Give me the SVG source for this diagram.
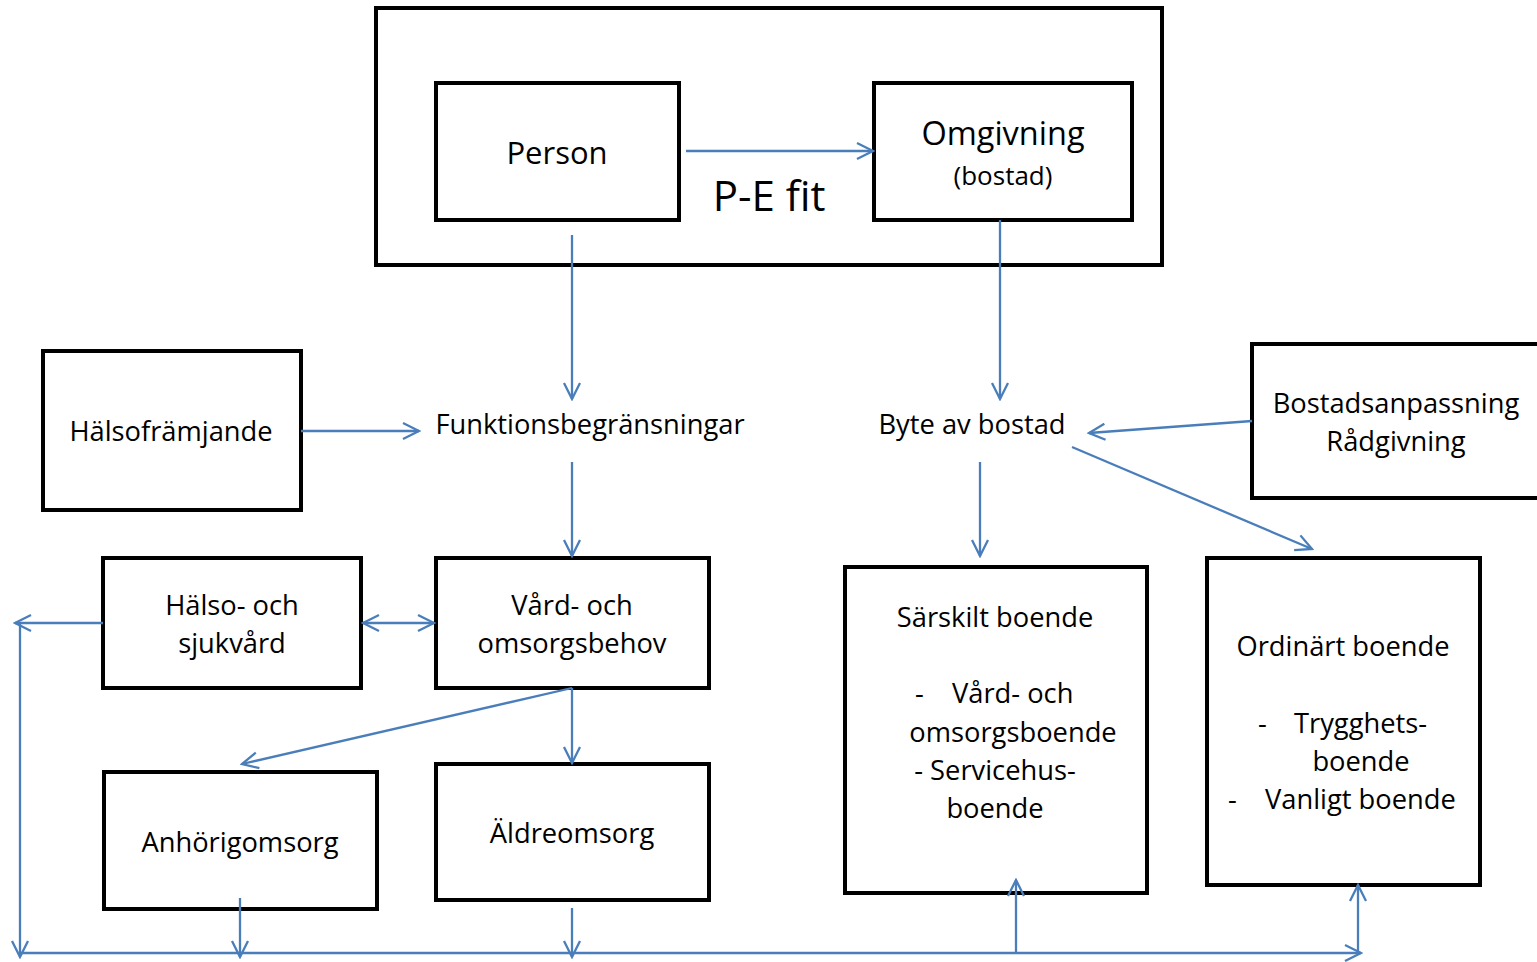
<svg xmlns="http://www.w3.org/2000/svg" width="1537" height="962" viewBox="0 0 1537 962">
<style>
.b{fill:none;stroke:#000;stroke-width:4}
.c{fill:none;stroke:#4a7ebb;stroke-width:2.3}
text{font-family:"Open Sans","Noto Sans",sans-serif;font-size:27.3px;fill:#000;text-anchor:middle}
.l{text-anchor:start}
</style>
<defs>
<marker id="a" viewBox="0 0 20 20" refX="18" refY="10" markerWidth="20" markerHeight="20" markerUnits="userSpaceOnUse" orient="auto-start-reverse">
<path d="M2,2 L18,10 L2,18" fill="none" stroke="#4a7ebb" stroke-width="2.3"/>
</marker>
</defs>
<rect width="1537" height="962" fill="#fff"/>
<g id="outer"><rect class="b" x="376" y="8" width="786" height="257"/><text x="769" y="211" style="font-size:42px">P-E fit</text></g>
<g id="person"><rect class="b" x="436" y="83" width="243" height="137"/><text x="557" y="164" style="font-size:31px">Person</text></g>
<g id="omgivning"><rect class="b" x="874" y="83" width="258" height="137"/><text x="1003" y="145" style="font-size:32.5px">Omgivning</text><text x="1003" y="185" style="font-size:26px">(bostad)</text></g>
<g id="halsoframjande"><rect class="b" x="43" y="351" width="258" height="159"/><text x="171" y="441">Hälsofrämjande</text></g>
<g id="funktion"><text x="590" y="434">Funktionsbegränsningar</text></g>
<g id="byte"><text x="972" y="434">Byte av bostad</text></g>
<g id="bostadsanpassning"><rect class="b" x="1252" y="344" width="295" height="154"/><text x="1396" y="413">Bostadsanpassning</text><text x="1396" y="451">Rådgivning</text></g>
<g id="halsosjukvard"><rect class="b" x="103" y="558" width="258" height="130"/><text x="232" y="615">Hälso- och</text><text x="232" y="653">sjukvård</text></g>
<g id="vardomsorg"><rect class="b" x="436" y="558" width="273" height="130"/><text x="572" y="615">Vård- och</text><text x="572" y="653">omsorgsbehov</text></g>
<g id="anhorig"><rect class="b" x="104" y="772" width="273" height="137"/><text x="240" y="852">Anhörigomsorg</text></g>
<g id="aldreomsorg"><rect class="b" x="436" y="764" width="273" height="136"/><text x="572" y="843">Äldreomsorg</text></g>
<g id="sarskilt"><rect class="b" x="845" y="567" width="302" height="326"/>
<text x="995" y="627">Särskilt boende</text>
<text class="l" x="915" y="703">-</text><text class="l" x="952" y="703">Vård- och</text>
<text x="1013" y="742">omsorgsboende</text>
<text x="995" y="780">- Servicehus-</text>
<text x="995" y="818">boende</text></g>
<g id="ordinart"><rect class="b" x="1207" y="558" width="273" height="327"/>
<text x="1343" y="656">Ordinärt boende</text>
<text class="l" x="1258" y="733">-</text><text class="l" x="1294" y="733">Trygghets-</text>
<text x="1361" y="771">boende</text>
<text class="l" x="1228" y="809">-</text><text class="l" x="1265" y="809">Vanligt boende</text></g>
<g id="connectors">
<line class="c" x1="686" y1="151" x2="873" y2="151" marker-end="url(#a)"/>
<line class="c" x1="572" y1="235" x2="572" y2="399" marker-end="url(#a)"/>
<line class="c" x1="1000" y1="220" x2="1000" y2="399" marker-end="url(#a)"/>
<line class="c" x1="301" y1="431" x2="419" y2="431" marker-end="url(#a)"/>
<line class="c" x1="1252" y1="421" x2="1089" y2="433" marker-end="url(#a)"/>
<line class="c" x1="572" y1="462" x2="572" y2="556" marker-end="url(#a)"/>
<line class="c" x1="980" y1="462" x2="980" y2="556" marker-end="url(#a)"/>
<line class="c" x1="1072" y1="447" x2="1312" y2="549" marker-end="url(#a)"/>
<line class="c" x1="363" y1="623" x2="434" y2="623" marker-start="url(#a)" marker-end="url(#a)"/>
<line class="c" x1="572" y1="688" x2="242" y2="764" marker-end="url(#a)"/>
<line class="c" x1="572" y1="688" x2="572" y2="763" marker-end="url(#a)"/>
<line class="c" x1="103" y1="623" x2="15" y2="623" marker-end="url(#a)"/>
<line class="c" x1="20" y1="623" x2="20" y2="957" marker-end="url(#a)"/>
<line class="c" x1="20" y1="953" x2="1361" y2="953" marker-end="url(#a)"/>
<line class="c" x1="240" y1="898" x2="240" y2="957" marker-end="url(#a)"/>
<line class="c" x1="572" y1="908" x2="572" y2="957" marker-end="url(#a)"/>
<line class="c" x1="1016" y1="953" x2="1016" y2="880" marker-end="url(#a)"/>
<line class="c" x1="1358" y1="953" x2="1358" y2="885" marker-end="url(#a)"/>
</g>
</svg>
